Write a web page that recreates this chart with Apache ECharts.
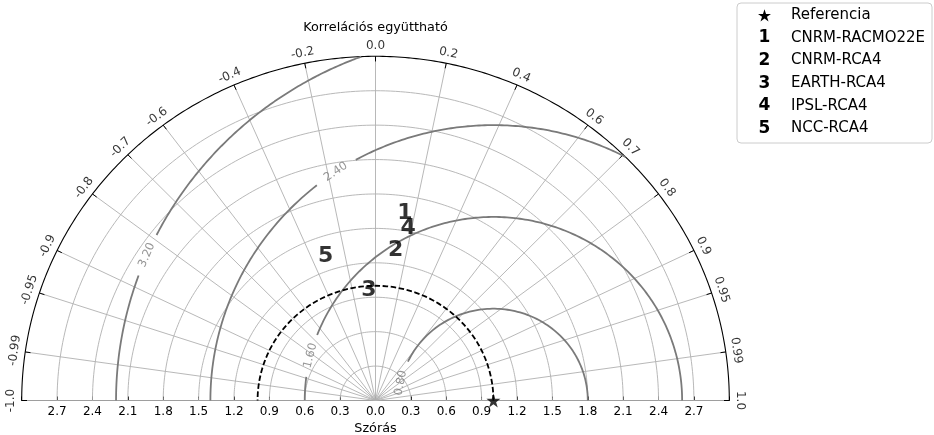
<!DOCTYPE html>
<html>
<head>
<meta charset="utf-8">
<script src="https://cdn.jsdelivr.net/npm/echarts@6/dist/echarts.min.js"></script>
<style>
html,body{margin:0;padding:0;background:#fff;overflow:hidden;width:934px;height:435px;}
#chart{position:absolute;left:0;top:0;width:934px;height:435px;}
</style>
</head>
<body>
<div id="chart"></div>
<script>
// ---------------- data ----------------
const stdMax = 3.0;
const stdGrid = [0.3, 0.6, 0.9, 1.2, 1.5, 1.8, 2.1, 2.4, 2.7];
const corrTicks = [-1, -0.99, -0.95, -0.9, -0.8, -0.7, -0.6, -0.4, -0.2, 0, 0.2, 0.4, 0.6, 0.7, 0.8, 0.9, 0.95, 0.99, 1];
const corrTickLabels = ['-1.0', '-0.99', '-0.95', '-0.9', '-0.8', '-0.7', '-0.6', '-0.4', '-0.2', '0.0', '0.2', '0.4', '0.6', '0.7', '0.8', '0.9', '0.95', '0.99', '1.0'];
const refStd = 1.0;
const refName = 'Referencia';
const rmsLevels = [0.8, 1.6, 2.4, 3.2];
const rmsLabels = ['0.80', '1.60', '2.40', '3.20'];
const modelNames = ['CNRM-RACMO22E', 'CNRM-RCA4', 'EARTH-RCA4', 'IPSL-RCA4', 'NCC-RCA4'];
const modelStd = [1.651, 1.323, 0.965, 1.527, 1.323];
const modelCorr = [0.151, 0.129, -0.057, 0.182, -0.319];
const titleCorr = 'Korrelációs együttható';
const titleStd = 'Szórás';

// ---------------- styling / layout (not data) ----------------
const FONT = '"DejaVu Sans", sans-serif';
const GRID_COLOR = '#b0b0b0';
const CONTOUR_COLOR = '#7a7a7a';
const HIDDEN = 'rgba(0,0,0,0)';
// contour label placement: angle (deg, around reference point) and half-gap (deg)
const rmsLabelAngle = [169, 165.85, 123.85, 156.65];
const rmsLabelGap = [14, 6.75, 4.75, 3.45];

function ptSC(s, c) { return [s * c, s * Math.sqrt(Math.max(0, 1 - c * c))]; }
function arc(s, n) {
  const pts = [];
  for (let i = 0; i <= n; i++) { const t = Math.PI * i / n; pts.push([s * Math.cos(t), s * Math.sin(t)]); }
  return pts;
}
function rmsArc(rho, a0, a1, n) {
  const pts = [];
  for (let i = 0; i <= n; i++) {
    const p = (a0 + (a1 - a0) * i / n) * Math.PI / 180;
    pts.push([refStd + rho * Math.cos(p), rho * Math.sin(p)]);
  }
  return pts;
}
function lineSeries(data, color, width, z, type) {
  return {
    type: 'line', data: data, showSymbol: false, symbol: 'none', silent: true, clip: false,
    animation: false, z: z,
    lineStyle: { color: color, width: width, type: type || 'solid' }
  };
}
function starPoints(cx, cy, R) {
  const pts = [];
  const r = R * 0.382;
  for (let i = 0; i < 10; i++) {
    const a = -Math.PI / 2 + i * Math.PI / 5;
    const rr = i % 2 === 0 ? R : r;
    pts.push([cx + rr * Math.cos(a), cy + rr * Math.sin(a)]);
  }
  return pts;
}

const series = [];
// std grid arcs
stdGrid.forEach(s => series.push(lineSeries(arc(s, 200), GRID_COLOR, 0.9, 1)));
// correlation radial grid lines
corrTicks.forEach(c => series.push(lineSeries([[0, 0], ptSC(stdMax, c)], GRID_COLOR, 0.9, 1)));
// outer arc
series.push(lineSeries(arc(stdMax, 300), '#000', 1.1, 3));
// correlation ticks on outer arc
corrTicks.forEach(c => series.push(lineSeries([ptSC(stdMax * 0.985, c), ptSC(stdMax, c)], '#000', 1, 3)));

// RMS contours (circles around the reference), clipped to the diagram, with gaps at labels
rmsLevels.forEach((rho, i) => {
  const cmin = (stdMax * stdMax - refStd * refStd - rho * rho) / (2 * rho * refStd);
  const phiMin = Math.acos(Math.max(-1, Math.min(1, cmin))) * 180 / Math.PI;
  const g0 = rmsLabelAngle[i] - rmsLabelGap[i];
  const g1 = rmsLabelAngle[i] + rmsLabelGap[i];
  if (g0 > phiMin) series.push(lineSeries(rmsArc(rho, phiMin, g0, 200), CONTOUR_COLOR, 1.8, 4));
  if (g1 < 180) series.push(lineSeries(rmsArc(rho, g1, 180, 100), CONTOUR_COLOR, 1.8, 4));
});
// contour labels
series.push({
  type: 'scatter', silent: true, animation: false, clip: false, z: 5, symbolSize: 1,
  itemStyle: { color: HIDDEN },
  data: rmsLevels.map((rho, i) => {
    const p = rmsLabelAngle[i] * Math.PI / 180;
    let rot = rmsLabelAngle[i] + 90;
    while (rot > 90) rot -= 180;
    while (rot < -90) rot += 180;
    return {
      value: [refStd + rho * Math.cos(p), rho * Math.sin(p)],
      label: { show: true, position: 'inside', formatter: rmsLabels[i], rotate: rot,
               color: CONTOUR_COLOR, fontSize: 11.5, fontFamily: FONT }
    };
  })
});
// reference dashed circle
series.push(lineSeries(arc(refStd, 200), '#000', 1.8, 6, [5.5, 2.6]));

// correlation tick labels
series.push({
  type: 'scatter', silent: true, animation: false, clip: false, z: 5, symbolSize: 1,
  itemStyle: { color: HIDDEN },
  labelLayout: { hideOverlap: false },
  data: corrTicks.map((c, i) => ({
    value: ptSC(stdMax * 1.03, c),
    label: { show: true, position: 'inside', formatter: corrTickLabels[i],
             rotate: Math.acos(c) * 180 / Math.PI - 90, color: '#000', fontSize: 12, fontFamily: FONT }
  }))
});
// reference star
const STAR = 'path://M50,0 L61.2,34.5 L97.6,34.5 L68.2,55.9 L79.4,90.5 L50,69.1 L20.6,90.5 L31.8,55.9 L2.4,34.5 L38.8,34.5 Z';
series.push({
  type: 'scatter', silent: true, animation: false, clip: false, z: 10, symbol: STAR, symbolSize: 14,
  itemStyle: { color: '#000' }, data: [ptSC(refStd, 1)]
});
// model markers
series.push({
  type: 'scatter', silent: true, animation: false, clip: false, z: 10, symbolSize: 1,
  itemStyle: { color: HIDDEN },
  data: modelNames.map((n, i) => ({
    value: ptSC(modelStd[i], modelCorr[i]),
    label: { show: true, position: 'inside', formatter: String(i + 1), color: '#000',
             fontSize: 22, fontWeight: 'bold', fontFamily: FONT }
  }))
});

// legend (graphic)
const legendChildren = [{
  type: 'rect', shape: { x: 737, y: 3, width: 195, height: 140, r: 4 },
  style: { fill: '#fff', stroke: '#cccccc', lineWidth: 1 }
}];
const legY0 = 15.5, legDy = 22.55;
legendChildren.push({
  type: 'polygon', shape: { points: starPoints(764.5, legY0 + 0.5, 6.8) },
  style: { fill: '#000' }
});
legendChildren.push({ type: 'text', x: 791, y: legY0, style: { text: refName, font: '15px ' + FONT, fill: '#000', textVerticalAlign: 'middle', textAlign: 'left' } });
modelNames.forEach((n, i) => {
  const y = legY0 + legDy * (i + 1);
  legendChildren.push({ type: 'text', x: 764.5, y: y, style: { text: String(i + 1), font: 'bold 17px ' + FONT, fill: '#000', textVerticalAlign: 'middle', textAlign: 'center' } });
  legendChildren.push({ type: 'text', x: 791, y: y, style: { text: n, font: '15px ' + FONT, fill: '#000', textVerticalAlign: 'middle', textAlign: 'left' } });
});

const chart = echarts.init(document.getElementById('chart'), null, { renderer: 'canvas', width: 934, height: 435 });
chart.setOption({
  animation: false,
  backgroundColor: '#fff',
  grid: { left: 21.7, top: 56.3, width: 707.6, height: 344.2, containLabel: false, outerBoundsMode: 'none' },
  xAxis: {
    type: 'value', min: -stdMax, max: stdMax, interval: 0.3,
    axisLine: { show: true, onZero: false, lineStyle: { color: '#000', width: 1.1 } },
    axisTick: { show: true, inside: true, length: 4, lineStyle: { color: '#000', width: 1 } },
    splitLine: { show: false },
    axisLabel: {
      color: '#000', fontSize: 12, fontFamily: FONT, margin: 5,
      formatter: v => Math.abs(v) > stdMax - 0.05 ? '' : Math.abs(v).toFixed(1)
    },
    name: titleStd, nameLocation: 'middle', nameGap: 21,
    nameTextStyle: { color: '#000', fontSize: 12.8, fontFamily: FONT }
  },
  yAxis: { type: 'value', min: 0, max: stdMax, show: false },
  graphic: [
    { type: 'text', x: 375.5, y: 28, style: { text: titleCorr, font: '12.8px ' + FONT, fill: '#000', textAlign: 'center', textVerticalAlign: 'middle' } },
    { type: 'group', children: legendChildren }
  ],
  series: series
});
</script>
</body>
</html>
